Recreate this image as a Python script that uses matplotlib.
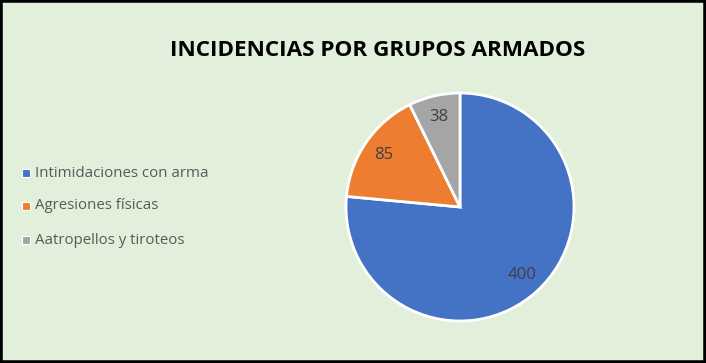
import matplotlib.pyplot as plt
from matplotlib.patches import Rectangle

categories = ["Intimidaciones con arma", "Agresiones físicas", "Aatropellos y tiroteos"]
values = [400, 85, 38]
colors = ["#4472C4", "#ED7D31", "#A5A5A5"]
title = "INCIDENCIAS POR GRUPOS ARMADOS"

W, H = 706, 363
fig = plt.figure(figsize=(W / 100, H / 100), dpi=100)
fig.patch.set_facecolor("#E2EFDA")
fig.add_artist(Rectangle((0, 0), 1, 1, transform=fig.transFigure, fill=False,
                         edgecolor="black", linewidth=4))

# pie axes: center (460, 207), radius ~114 px
cx, cy, r = 460, 207, 114
ax = fig.add_axes([(cx - r) / W, (H - cy - r) / H, 2 * r / W, 2 * r / H])
total = sum(values)
wedges, texts, autotexts = ax.pie(
    values, colors=colors, startangle=90, counterclock=False,
    autopct=lambda p: f"{round(p * total / 100):d}", pctdistance=0.81,
    wedgeprops=dict(edgecolor="white", linewidth=2),
    textprops=dict(color="#404040", fontsize=12, family="Open Sans"))
ax.set_xlim(-1.0, 1.0)
ax.set_ylim(-1.0, 1.0)
ax.set_aspect("equal")
ax.axis("off")

fig.text(378 / W, 1 - 50 / H, title, ha="center", va="center",
         fontsize=16.2, fontweight="bold", family="Open Sans", color="black")

# legend
leg_y = [173, 206, 240]
for name, col, y in zip(categories, colors, leg_y):
    fig.add_artist(Rectangle(((26 - 4) / W, (H - y - 4) / H), 8 / W, 8 / H,
                             transform=fig.transFigure, facecolor=col,
                             edgecolor="white", linewidth=0.8))
    fig.text(35 / W, 1 - y / H, name, ha="left", va="center", fontsize=10.8,
             family="Open Sans", color="#595959")

fig.savefig("out.png", dpi=100, facecolor=fig.get_facecolor())
